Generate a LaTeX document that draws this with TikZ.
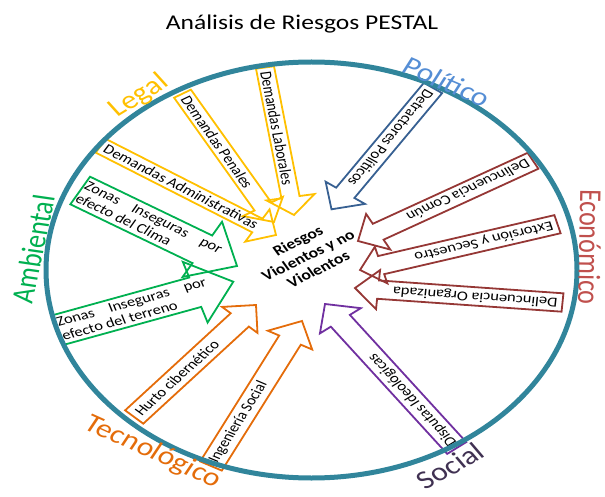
\documentclass[tikz,border=0pt]{standalone}
\usepackage{fontspec}
\setmainfont{Carlito}
\definecolor{cyellow}{HTML}{FFC000}
\definecolor{cgreen}{HTML}{00B050}
\definecolor{corange}{HTML}{E46C0A}
\definecolor{cpurple}{HTML}{7030A0}
\definecolor{cdred}{HTML}{953735}
\definecolor{cblue}{HTML}{376092}
\definecolor{cteal}{HTML}{31859B}
\definecolor{lpol}{HTML}{558ED5}
\definecolor{leco}{HTML}{C0504D}
\definecolor{lsoc}{HTML}{403152}
\newcommand\kk{1.217}
\newcommand\ahl{18}
\newcommand\apad{4}
% #1 name, #2 colour, #3 #4 tail (px), #5 #6 tip (px), #7 body half width, #8 head half width, #9 text
\newcommand\barrow[9]{%
  \pgfmathsetmacro\sxu{#3/\kk}%
  \pgfmathsetmacro\txu{#5/\kk}%
  \pgfmathsetmacro\dxu{\txu-\sxu}%
  \pgfmathsetmacro\dyu{-(#6-#4)}%
  \pgfmathsetmacro\aang{atan2(\dyu,\dxu)}%
  \pgfmathsetmacro\alen{veclen(\dxu,\dyu)}%
  \pgfmathsetmacro\abase{\alen-\ahl}%
  \begin{scope}[shift={(\sxu,#4)}, rotate=\aang]
    \draw[arrowline, draw=#2] (0,#7) -- (\abase,#7) -- (\abase,#8) -- (\alen,0)
      -- (\abase,-#8) -- (\abase,-#7) -- (0,-#7) -- cycle;
    \node[arrowtext] (#1) at (\apad,0) {#9};
  \end{scope}}
\begin{document}
\begin{tikzpicture}[x=1pt,y=-1pt,
  arrowline/.style={line width=1.8pt, line join=miter},
  arrowtext/.style={transform shape, font=\fontsize{13.6}{14.5}\selectfont, inner sep=0pt, anchor=west},
  catlabel/.style={transform shape, font=\fontsize{26}{30}\selectfont, inner sep=0pt}]
\useasboundingbox (0,0) rectangle (605,497);
\begin{scope}[xscale=\kk]
  \node[transform shape, font=\fontsize{21}{24}\selectfont, inner sep=0pt] (title) at ({302/\kk},24) {Análisis de Riesgos PESTAL};
  % Legal
  \renewcommand\ahl{18}
  \barrow{laborales}{cyellow}{265}{67.5}{294}{215}{7.5}{20}{Demandas Laborales}
  \barrow{penales}{cyellow}{182.5}{93.7}{274}{222}{8}{19}{Demandas Penales}
  \barrow{administrativas}{cyellow}{100.8}{145.8}{276}{235}{8}{19}{Demandas Administrativas}
  % Ambiental
  \renewcommand\ahl{33}
  \renewcommand\apad{1}
  \barrow{clima}{cgreen}{80.2}{190.5}{237}{266}{16}{32}{\parbox{129pt}{\raggedright Zonas\hfill Inseguras\hfill por\\efecto del Clima}}
  \barrow{terreno}{cgreen}{58.3}{330}{233.3}{281.7}{15.5}{32}{\parbox{129pt}{\raggedright Zonas\hfill Inseguras\hfill por\\efecto del terreno}}
  \renewcommand\apad{4}
  % Tecnologico
  \renewcommand\ahl{20}
  \barrow{hurto}{corange}{134.2}{417}{256}{305}{10}{19.5}{Hurto cibernético}
  \renewcommand\ahl{21.5}
  \barrow{ingenieria}{corange}{211}{466}{302}{321}{10}{20.5}{Ingeniería Social}
  % Social
  \renewcommand\ahl{21}
  \barrow{disputas}{cpurple}{456.7}{448}{325}{304}{9.8}{21}{Disputas Ideológicas}
  % Economico
  \renewcommand\ahl{19}
  \barrow{organizada}{cdred}{562.5}{302.5}{355}{288}{9.2}{19.6}{Delincuencia Organizada}
  \renewcommand\ahl{18}
  \barrow{extorsion}{cdred}{557.5}{224.2}{360}{270}{9.4}{19}{Extorsión y Secuestro}
  \renewcommand\ahl{19}
  \barrow{comun}{cdred}{533}{160.8}{358}{241}{9.1}{20.4}{Delincuencia Común}
  % Politico
  \renewcommand\ahl{20}
  \barrow{detractores}{cblue}{433}{88}{331.5}{209.3}{9.1}{19.6}{Detractores Políticos}
  % circle
  \draw[line width=5pt, draw=cteal] ({311.5/\kk},270) ellipse [x radius={265.5/\kk}, y radius=208];
  % category labels
  \node[catlabel, text=cyellow, rotate=36.7] (legal) at ({139/\kk},96) {Legal};
  \node[catlabel, text=lpol, rotate=-27.6] (politico) at ({447/\kk},82) {Político};
  \node[catlabel, text=leco, rotate=-91] (economico) at ({590/\kk},247) {Económico};
  \node[catlabel, text=lsoc, rotate=35] (social) at ({450/\kk},466) {Social};
  \node[catlabel, text=corange, rotate=-28.8] (tecnologico) at ({153/\kk},452) {Tecnológico};
  \node[catlabel, text=cgreen, rotate=80] (ambiental) at ({33/\kk},249) {Ambiental};
  % centre
  \node[transform shape, rotate=30.7, font=\fontsize{14.5}{16.5}\selectfont\bfseries, align=center, inner sep=0pt] (centre) at ({308/\kk},255) {Riesgos\\Violentos y no\\Violentos};
\end{scope}
\end{tikzpicture}
\end{document}
